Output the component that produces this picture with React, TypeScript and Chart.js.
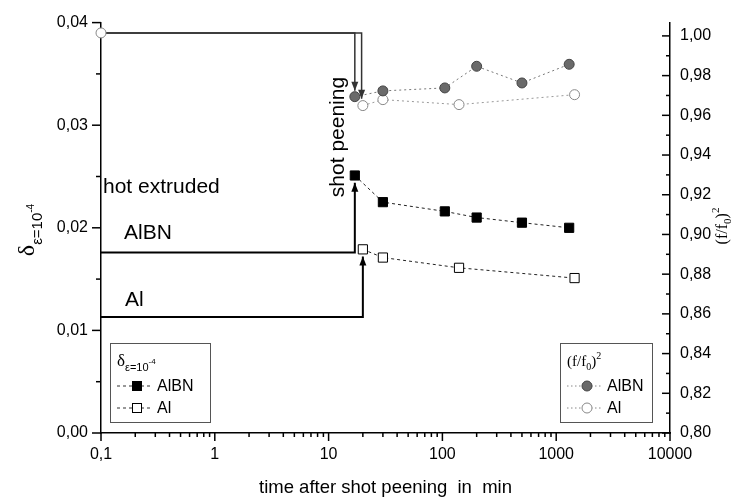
import React, { useEffect, useRef } from "react";
import { Chart, registerables } from "chart.js";

Chart.register(...registerables);

// ---- data ----
const timeAlBN = [17, 30, 105, 200, 500, 1300];
const deltaAlBN = [0.0251, 0.0225, 0.0216, 0.021, 0.0205, 0.02];
const ffAlBN = [0.9694, 0.9723, 0.9738, 0.9847, 0.9763, 0.9857];

const timeAl = [20, 30, 140, 1450];
const deltaAl = [0.0179, 0.0171, 0.0161, 0.0151];
const ffAl = [0.9649, 0.9679, 0.9654, 0.9704];

const hotTime = 0.1;
const hotDeltaAlBN = 0.0176;
const hotDeltaAl = 0.0113;
const hotFF = 1.0015;

// shot peening arrows: x position and arrow tip values
const arrowTimeDeltaAlBN = 17;
const arrowTimeDeltaAl = 20;
const arrowTipDelta = [0.0244, 0.0172];
const arrowTimeFF = [17, 19.5];
const arrowTipFF = [0.9724, 0.9684];

// ---- axes ----
const xTickValues = [0.1, 1, 10, 100, 1000, 10000];
const xTickLabels = ["0,1", "1", "10", "100", "1000", "10000"];
const leftTickValues = [0, 0.01, 0.02, 0.03, 0.04];
const leftTickLabels = ["0,00", "0,01", "0,02", "0,03", "0,04"];
const leftMinor = [0.005, 0.015, 0.025, 0.035];
const rightTickValues = [0.8, 0.82, 0.84, 0.86, 0.88, 0.9, 0.92, 0.94, 0.96, 0.98, 1.0];
const rightTickLabels = ["0,80", "0,82", "0,84", "0,86", "0,88", "0,90", "0,92", "0,94", "0,96", "0,98", "1,00"];
const rightMinor = [0.81, 0.83, 0.85, 0.87, 0.89, 0.91, 0.93, 0.95, 0.97, 0.99];
const xMin = 0.1, xMax = 10000;
const yMin = 0, yMax = 0.04;
const y1Min = 0.8, y1Max = 1.0067;

const FONT = "'Liberation Sans', Arial, sans-serif";
const SERIF = "'Liberation Serif', 'Times New Roman', serif";

const ARROW_SETS = [5, 6, 7, 8];

function drawHead(ctx: CanvasRenderingContext2D, ax: number, ay: number, bx: number, by: number, color: string) {
  const ang = Math.atan2(by - ay, bx - ax);
  const L = 9, W = 3.5;
  ctx.save();
  ctx.fillStyle = color;
  ctx.beginPath();
  ctx.moveTo(bx, by);
  ctx.lineTo(bx - L * Math.cos(ang) + W * Math.sin(ang), by - L * Math.sin(ang) - W * Math.cos(ang));
  ctx.lineTo(bx - L * Math.cos(ang) - W * Math.sin(ang), by - L * Math.sin(ang) + W * Math.cos(ang));
  ctx.closePath();
  ctx.fill();
  ctx.restore();
}

function seg(ctx: CanvasRenderingContext2D, x1: number, y1: number, x2: number, y2: number) {
  ctx.beginPath();
  ctx.moveTo(x1, y1);
  ctx.lineTo(x2, y2);
  ctx.stroke();
}

const decor = {
  id: "decor",
  afterDatasetsDraw(chart: any) {
    const ctx: CanvasRenderingContext2D = chart.ctx;
    const { left, right, bottom } = chart.chartArea;
    const xs = chart.scales.x, yl = chart.scales.y, yr = chart.scales.y1;
    ctx.save();
    ctx.strokeStyle = "#000";
    ctx.lineWidth = 1.5;
    leftTickValues.forEach((v) => { const y = yl.getPixelForValue(v); seg(ctx, left - 9, y, left, y); });
    leftMinor.forEach((v) => { const y = yl.getPixelForValue(v); seg(ctx, left - 5, y, left, y); });
    rightTickValues.forEach((v) => { const y = yr.getPixelForValue(v); seg(ctx, right - 8, y, right, y); });
    rightMinor.forEach((v) => { const y = yr.getPixelForValue(v); seg(ctx, right - 4, y, right, y); });
    xTickValues.forEach((v) => { const x = xs.getPixelForValue(v); seg(ctx, x, bottom, x, bottom + 8); });
    for (let d = 0.1; d < 10000; d *= 10) {
      for (let k = 2; k <= 9; k++) {
        const x = xs.getPixelForValue(d * k);
        seg(ctx, x, bottom, x, bottom + 4);
      }
    }

    // arrowheads
    ARROW_SETS.forEach((i, j) => {
      const pts = chart.getDatasetMeta(i).data;
      const a = pts[pts.length - 2], b = pts[pts.length - 1];
      drawHead(ctx, a.x, a.y, b.x, b.y, j < 2 ? "#000" : "#333");
    });

    // annotations
    ctx.fillStyle = "#000";
    ctx.font = `21px ${FONT}`;
    ctx.textBaseline = "alphabetic";
    ctx.textAlign = "left";
    ctx.fillText("hot extruded", 103, 193);
    ctx.fillText("AlBN", 124, 239);
    ctx.fillText("Al", 125, 306);
    ctx.save();
    ctx.translate(338, 137);
    ctx.rotate(-Math.PI / 2);
    ctx.textAlign = "center";
    ctx.textBaseline = "middle";
    ctx.fillText("shot peening", 0, 0);
    ctx.restore();

    // x-axis title
    ctx.font = `18.5px ${FONT}`;
    ctx.textAlign = "center";
    ctx.textBaseline = "middle";
    ctx.fillText("time after shot peening  in  min", (left + right) / 2, 488);

    // left axis title  δ_{ε=10^-4}
    ctx.save();
    ctx.translate(34, 230);
    ctx.rotate(-Math.PI / 2);
    ctx.textAlign = "left";
    ctx.textBaseline = "alphabetic";
    ctx.font = `24px ${SERIF}`;
    const wD = ctx.measureText("δ").width;
    ctx.font = `15px ${FONT}`;
    const wS = ctx.measureText("ε=10").width;
    ctx.font = `10px ${FONT}`;
    const wE = ctx.measureText("-4").width;
    const tot = wD + wS + wE;
    let cx = -tot / 2;
    ctx.font = `24px ${SERIF}`;
    ctx.fillText("δ", cx, 0);
    cx += wD;
    ctx.font = `15px ${FONT}`;
    ctx.fillText("ε=10", cx, 8);
    cx += wS;
    ctx.font = `10px ${FONT}`;
    ctx.fillText("-4", cx, 0);
    ctx.restore();

    // right axis title (f/f0)^2
    ctx.save();
    ctx.translate(727, 226);
    ctx.rotate(-Math.PI / 2);
    ctx.textAlign = "left";
    ctx.textBaseline = "alphabetic";
    ctx.font = `16px ${SERIF}`;
    const p1 = "(f/f";
    const w1 = ctx.measureText(p1).width;
    const w3 = ctx.measureText(")").width;
    ctx.font = `11px ${SERIF}`;
    const w2 = ctx.measureText("0").width;
    const w4 = ctx.measureText("2").width;
    let rx = -(w1 + w2 + w3 + w4) / 2;
    ctx.font = `16px ${SERIF}`;
    ctx.fillText(p1, rx, 0); rx += w1;
    ctx.font = `11px ${SERIF}`;
    ctx.fillText("0", rx, 4); rx += w2;
    ctx.font = `16px ${SERIF}`;
    ctx.fillText(")", rx, 0); rx += w3;
    ctx.font = `11px ${SERIF}`;
    ctx.fillText("2", rx, -8);
    ctx.restore();

    // ---- left legend ----
    ctx.strokeStyle = "#555";
    ctx.lineWidth = 1;
    ctx.strokeRect(110.5, 343.5, 100, 79);
    ctx.fillStyle = "#000";
    ctx.textAlign = "left";
    ctx.textBaseline = "alphabetic";
    ctx.font = `17px ${SERIF}`;
    ctx.fillText("δ", 117, 366);
    let lx = 117 + ctx.measureText("δ").width;
    ctx.font = `11px ${FONT}`;
    ctx.fillText("ε=10", lx, 371);
    lx += ctx.measureText("ε=10").width;
    ctx.font = `8px ${FONT}`;
    ctx.fillText("-4", lx, 364);

    const rowY = [386, 408];
    ctx.font = `16px ${FONT}`;
    ctx.textBaseline = "middle";
    ["AlBN", "Al"].forEach((lab, i) => {
      const y = rowY[i];
      ctx.save();
      ctx.strokeStyle = "#333";
      ctx.setLineDash([3, 3]);
      seg(ctx, 117, y, 153, y);
      ctx.restore();
      ctx.fillStyle = i === 0 ? "#000" : "#fff";
      ctx.fillRect(132.5, y - 4.5, 9, 9);
      ctx.strokeStyle = "#000";
      ctx.lineWidth = 1;
      ctx.strokeRect(132.5, y - 4.5, 9, 9);
      ctx.fillStyle = "#000";
      ctx.fillText(lab, 157, y + 1);
    });

    // ---- right legend ----
    ctx.strokeStyle = "#555";
    ctx.lineWidth = 1;
    ctx.strokeRect(560.5, 343.5, 92, 79);
    ctx.textBaseline = "alphabetic";
    ctx.fillStyle = "#000";
    ctx.font = `15px ${SERIF}`;
    let qx = 567;
    ctx.fillText("(f/f", qx, 366); qx += ctx.measureText("(f/f").width;
    ctx.font = `10px ${SERIF}`;
    ctx.fillText("0", qx, 370); qx += ctx.measureText("0").width;
    ctx.font = `15px ${SERIF}`;
    ctx.fillText(")", qx, 366); qx += ctx.measureText(")").width;
    ctx.font = `10px ${SERIF}`;
    ctx.fillText("2", qx, 359);

    ctx.font = `16px ${FONT}`;
    ctx.textBaseline = "middle";
    ["AlBN", "Al"].forEach((lab, i) => {
      const y = rowY[i];
      ctx.save();
      ctx.strokeStyle = "#888";
      ctx.setLineDash([1.5, 2.5]);
      seg(ctx, 567, y, 603, y);
      ctx.restore();
      ctx.beginPath();
      ctx.arc(587, y, 5, 0, Math.PI * 2);
      ctx.fillStyle = i === 0 ? "#6a6a6a" : "#fff";
      ctx.fill();
      ctx.strokeStyle = i === 0 ? "#444" : "#888";
      ctx.lineWidth = 1;
      ctx.stroke();
      ctx.fillStyle = "#000";
      ctx.fillText(lab, 607, y + 1);
    });

    ctx.restore();
  },
};

export default function App() {
  const ref = useRef<HTMLCanvasElement | null>(null);

  useEffect(() => {
    if (!ref.current) return;
    Chart.defaults.font.family = FONT;
    const xy = (xs: number[], ys: number[]) => xs.map((x, i) => ({ x, y: ys[i] }));

    const chart = new Chart(ref.current, {
      type: "line",
      data: {
        datasets: [
          {
            label: "δ AlBN",
            data: xy(timeAlBN, deltaAlBN),
            yAxisID: "y",
            borderColor: "#222",
            borderWidth: 1,
            borderDash: [3, 3],
            pointStyle: "rect",
            pointRadius: 6.5,
            pointBackgroundColor: "#000",
            pointBorderColor: "#000",
            pointBorderWidth: 1,
          },
          {
            label: "δ Al",
            data: xy(timeAl, deltaAl),
            yAxisID: "y",
            borderColor: "#222",
            borderWidth: 1,
            borderDash: [3, 3],
            pointStyle: "rect",
            pointRadius: 6.5,
            pointBackgroundColor: "#fff",
            pointBorderColor: "#000",
            pointBorderWidth: 1,
          },
          {
            label: "(f/f0)² AlBN",
            data: xy(timeAlBN, ffAlBN),
            yAxisID: "y1",
            borderColor: "#777",
            borderWidth: 1,
            borderDash: [2, 3],
            pointStyle: "circle",
            pointRadius: 5,
            pointBackgroundColor: "#6a6a6a",
            pointBorderColor: "#444",
            pointBorderWidth: 1,
          },
          {
            label: "(f/f0)² Al",
            data: xy(timeAl, ffAl),
            yAxisID: "y1",
            borderColor: "#999",
            borderWidth: 1,
            borderDash: [2, 3],
            pointStyle: "circle",
            pointRadius: 5,
            pointBackgroundColor: "#fff",
            pointBorderColor: "#888",
            pointBorderWidth: 1,
          },
          {
            label: "hot extruded (f/f0)²",
            data: [{ x: hotTime, y: hotFF }],
            yAxisID: "y1",
            showLine: false,
            clip: false,
            pointStyle: "circle",
            pointRadius: 5,
            pointBackgroundColor: "#fff",
            pointBorderColor: "#888",
            pointBorderWidth: 1,
          },
          {
            label: "arrow δ AlBN",
            data: [
              { x: hotTime, y: hotDeltaAlBN },
              { x: arrowTimeDeltaAlBN, y: hotDeltaAlBN },
              { x: arrowTimeDeltaAlBN, y: arrowTipDelta[0] },
            ],
            yAxisID: "y",
            clip: false,
            borderColor: "#000",
            borderWidth: 2,
            pointRadius: 0,
          },
          {
            label: "arrow δ Al",
            data: [
              { x: hotTime, y: hotDeltaAl },
              { x: arrowTimeDeltaAl, y: hotDeltaAl },
              { x: arrowTimeDeltaAl, y: arrowTipDelta[1] },
            ],
            yAxisID: "y",
            clip: false,
            borderColor: "#000",
            borderWidth: 2,
            pointRadius: 0,
          },
          {
            label: "arrow ff AlBN",
            data: [
              { x: hotTime, y: hotFF },
              { x: arrowTimeFF[0], y: hotFF },
              { x: arrowTimeFF[0], y: arrowTipFF[0] },
            ],
            yAxisID: "y1",
            clip: false,
            borderColor: "#333",
            borderWidth: 1.5,
            pointRadius: 0,
          },
          {
            label: "arrow ff Al",
            data: [
              { x: hotTime, y: hotFF },
              { x: arrowTimeFF[1], y: hotFF },
              { x: arrowTimeFF[1], y: arrowTipFF[1] },
            ],
            yAxisID: "y1",
            clip: false,
            borderColor: "#333",
            borderWidth: 1.5,
            pointRadius: 0,
          },
        ],
      },
      options: {
        responsive: false,
        animation: false,
        devicePixelRatio: 1,
        layout: { padding: { top: 15, left: 0, right: 0, bottom: 0 } },
        plugins: { legend: { display: false }, tooltip: { enabled: false } },
        elements: { line: { tension: 0 } },
        scales: {
          x: {
            type: "logarithmic",
            position: "bottom",
            min: xMin,
            max: xMax,
            grid: { display: false, drawTicks: false },
            border: { display: true, color: "#000", width: 1.5 },
            afterBuildTicks: (s: any) => { s.ticks = xTickValues.map((v) => ({ value: v })); },
            afterFit: (s: any) => { s.height = 69; },
            ticks: {
              autoSkip: false,
              maxRotation: 0,
              padding: 12,
              color: "#000",
              font: { size: 16, family: FONT },
              callback: (v: any) => { const i = xTickValues.indexOf(Number(v)); return i >= 0 ? xTickLabels[i] : ""; },
            },
          },
          y: {
            type: "linear",
            position: "left",
            min: yMin,
            max: yMax,
            grid: { display: false, drawTicks: false },
            border: { display: true, color: "#000", width: 1.5 },
            afterBuildTicks: (s: any) => { s.ticks = leftTickValues.map((v) => ({ value: v })); },
            afterFit: (s: any) => { s.width = 101; },
            ticks: {
              autoSkip: false,
              padding: 13,
              color: "#000",
              font: { size: 16, family: FONT },
              callback: (v: any, i: number) => leftTickLabels[i],
            },
          },
          y1: {
            type: "linear",
            position: "right",
            min: y1Min,
            max: y1Max,
            grid: { display: false, drawTicks: false },
            border: { display: true, color: "#000", width: 1.5 },
            afterBuildTicks: (s: any) => { s.ticks = rightTickValues.map((v) => ({ value: v })); },
            afterFit: (s: any) => { s.width = 76; },
            ticks: {
              autoSkip: false,
              padding: 10,
              color: "#000",
              font: { size: 16, family: FONT },
              callback: (v: any, i: number) => rightTickLabels[i],
            },
          },
        },
      },
      plugins: [decor],
    } as any);

    return () => chart.destroy();
  }, []);

  return (
    <div style={{ position: "fixed", left: 0, top: 0, width: 746, height: 502, background: "#fff" }}>
      <canvas ref={ref} width={746} height={502} />
    </div>
  );
}
